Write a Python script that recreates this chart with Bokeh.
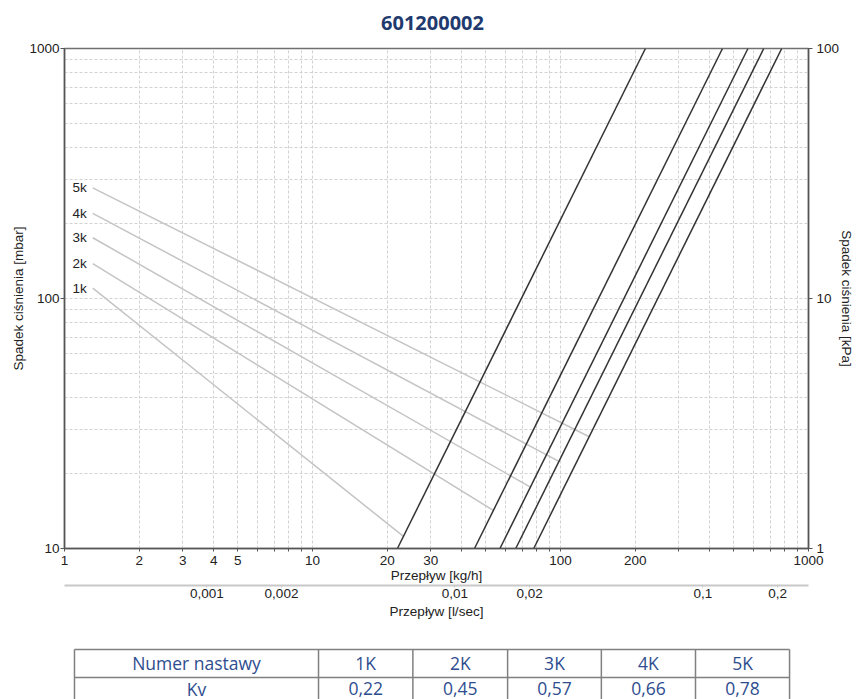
from bokeh.plotting import figure
from bokeh.models import (LogAxis, Range1d, LogScale, FixedTicker,
                          CustomJSTickFormatter, ColumnDataSource)
from bokeh.layouts import column
from bokeh.embed import file_html
from bokeh.resources import INLINE
from bokeh.core.properties import value

# ---------------- data ----------------
title_text = "601200002"
table_head = "Numer nastawy"
table_row = "Kv"
settings = ["1K", "2K", "3K", "4K", "5K"]
kv_values = ["0,22", "0,45", "0,57", "0,66", "0,78"]
setting_labels = ["1k", "2k", "3k", "4k", "5k"]

# Kv characteristic lines: flow [kg/h] at 10 mbar and at 1000 mbar
kv_flow_low = [22, 45, 57, 66, 78]
kv_dp_low = [10, 10, 10, 10, 10]
kv_flow_high = [220, 450, 570, 660, 780]
kv_dp_high = [1000, 1000, 1000, 1000, 1000]

# setting indicator lines (label point -> point on Kv line)
set_x0 = [1.3, 1.3, 1.3, 1.3, 1.3]
set_y0 = [110, 138, 175, 219, 277]
set_x1 = [23.2, 53.6, 75.6, 98.5, 130.6]
set_y1 = [11.2, 14.2, 17.6, 22.3, 28.0]

x_ticks = [1, 2, 3, 4, 5, 10, 20, 30, 100, 200, 1000]
x_minor = [6, 7, 8, 9, 40, 50, 60, 70, 80, 90, 300, 400, 500, 600, 700, 800, 900]
y_ticks = [10, 100, 1000]
y_minor = [20, 30, 40, 50, 60, 70, 80, 90, 200, 300, 400, 500, 600, 700, 800, 900]
kpa_ticks = [1, 10, 100]
ls_ticks = [0.001, 0.002, 0.01, 0.02, 0.1, 0.2]

X_RANGE = (1, 1000)
Y_RANGE = (10, 1000)
KPA_RANGE = (1, 100)
KG_H_TO_L_S = 1 / 3600.0
LS_SHIFT = 0.96   # secondary axis drawn slightly shifted in the original

# ---------------- layout / styles ----------------
W = 857
H_TITLE = 36
H_MAIN = 589
H_TABLE = 699 - H_TITLE - H_MAIN
FR_L, FR_R = 64, 810          # frame left / right (page px)
FONT = "Liberation Sans"
TXT = "#222222"
TITLE_COL = "#1f3a6e"
TABLE_COL = "#2e4d8f"
GRID_COL = "#d2d2d2"
AX_COL = "#555555"

def blank_panel(h, y_top):
    f = figure(width=W, height=h, x_range=Range1d(FR_L, FR_R),
               y_range=Range1d(y_top + h, y_top),
               output_backend="svg", toolbar_location=None,
               min_border_left=FR_L, min_border_right=W - FR_R,
               min_border_top=0, min_border_bottom=0)
    f.axis.visible = False
    f.grid.visible = False
    f.outline_line_color = None
    return f

# ---------------- title ----------------
tt = blank_panel(H_TITLE, 0)
tt.text(x=[433], y=[22], text=[title_text], text_align="center", text_baseline="middle",
        text_font=value("Open Sans"), text_font_style="bold", text_font_size="20px",
        text_color=TITLE_COL)

# ---------------- main chart ----------------
fmt = CustomJSTickFormatter(code="return tick.toString().replace('.', ',');")

p = figure(width=W, height=H_MAIN, x_axis_type="log", y_axis_type="log",
           x_range=Range1d(*X_RANGE), y_range=Range1d(*Y_RANGE),
           output_backend="svg", toolbar_location=None,
           min_border_left=FR_L, min_border_right=W - FR_R, min_border_top=48 - H_TITLE,
           min_border_bottom=H_TITLE + H_MAIN - 548)

p.outline_line_color = "#707070"
p.outline_line_width = 1.5

p.extra_y_ranges = {"kpa": Range1d(*KPA_RANGE)}
p.extra_y_scales = {"kpa": LogScale()}
p.extra_x_ranges = {"ls": Range1d(X_RANGE[0] * KG_H_TO_L_S * LS_SHIFT,
                                  X_RANGE[1] * KG_H_TO_L_S * LS_SHIFT)}
p.extra_x_scales = {"ls": LogScale()}

def style_axis(ax):
    ax.axis_line_color = AX_COL
    ax.axis_line_width = 1.5
    ax.major_tick_line_color = AX_COL
    ax.minor_tick_line_color = AX_COL
    ax.major_label_text_font = FONT
    ax.major_label_text_font_size = "13.5px"
    ax.major_label_text_color = TXT
    ax.axis_label_text_font = FONT
    ax.axis_label_text_font_size = "13.5px"
    ax.axis_label_text_font_style = "normal"
    ax.axis_label_text_color = TXT
    ax.formatter = fmt

xa = p.xaxis[0]
style_axis(xa)
xa.ticker = FixedTicker(ticks=x_ticks, minor_ticks=x_minor)
xa.major_tick_out = 3
xa.major_tick_in = 0
xa.minor_tick_out = 3
xa.minor_tick_in = 0
xa.major_label_standoff = 4
xa.axis_label = "Przepływ [kg/h]"
xa.axis_label_standoff = 0

ya = p.yaxis[0]
style_axis(ya)
ya.ticker = FixedTicker(ticks=y_ticks, minor_ticks=y_minor)
ya.major_tick_out = 4
ya.major_tick_in = 0
ya.minor_tick_out = 0
ya.minor_tick_in = 0
ya.major_label_standoff = 1
ya.axis_label = "Spadek ciśnienia [mbar]"
ya.axis_label_standoff = 0

ra = LogAxis(y_range_name="kpa")
style_axis(ra)
ra.ticker = FixedTicker(ticks=kpa_ticks, minor_ticks=[])
ra.major_tick_out = 4
ra.major_tick_in = 0
ra.minor_tick_out = 0
ra.minor_tick_in = 0
ra.major_label_standoff = 4
ra.axis_label = "Spadek ciśnienia [kPa]"
ra.axis_label_standoff = -3
p.add_layout(ra, "right")

la = LogAxis(x_range_name="ls")
style_axis(la)
la.ticker = FixedTicker(ticks=ls_ticks, minor_ticks=[])
la.axis_line_color = "#c8c8c8"
la.axis_line_width = 2
la.major_tick_line_color = "#c8c8c8"
la.major_tick_out = 2
la.major_tick_in = 0
la.minor_tick_out = 0
la.minor_tick_in = 0
la.major_label_standoff = 1
la.axis_label = "Przepływ [l/sec]"
la.axis_label_standoff = 3
p.add_layout(la, "below")

for g in (p.xgrid[0], p.ygrid[0]):
    g.grid_line_color = GRID_COL
    g.grid_line_dash = "3 2"
    g.grid_line_width = 1
    g.minor_grid_line_color = GRID_COL
    g.minor_grid_line_dash = "3 2"
    g.minor_grid_line_width = 1

# setting indicator lines
set_src = ColumnDataSource(dict(x0=set_x0, y0=set_y0, x1=set_x1, y1=set_y1,
                                lab=setting_labels))
p.segment(x0="x0", y0="y0", x1="x1", y1="y1", source=set_src,
          line_color="#c4c4c4", line_width=1.5)
p.text(x="x0", y="y0", text="lab", source=set_src, x_offset=-6,
       text_align="right", text_baseline="middle",
       text_font=value(FONT), text_font_size="13.5px", text_color=TXT)

# Kv lines
kv_src = ColumnDataSource(dict(x0=kv_flow_low, y0=kv_dp_low,
                               x1=kv_flow_high, y1=kv_dp_high))
p.segment(x0="x0", y0="y0", x1="x1", y1="y1", source=kv_src,
          line_color="#333333", line_width=1.5)

# ---------------- table (page-pixel coordinates) ----------------
t = blank_panel(H_TABLE, H_TITLE + H_MAIN)

col_edges = [74, 318.7, 413.3, 508.3, 602.3, 696.7, 791]
row_edges = [649, 677, 705]
hx0 = [col_edges[0]] * len(row_edges)
hx1 = [col_edges[-1]] * len(row_edges)
t.segment(x0=hx0, y0=row_edges, x1=hx1, y1=row_edges, line_color="#808080", line_width=1.5)
t.segment(x0=col_edges, y0=[row_edges[0]] * len(col_edges), x1=col_edges,
          y1=[row_edges[-1]] * len(col_edges), line_color="#808080", line_width=1.5)

centers = [(col_edges[i] + col_edges[i + 1]) / 2 for i in range(len(col_edges) - 1)]
row_c = [662, 688]
cells_x = centers + centers
cells_y = [row_c[0]] * len(centers) + [row_c[1]] * len(centers)
cells_t = [table_head] + settings + [table_row] + kv_values
t.text(x=cells_x, y=cells_y, text=cells_t, text_align="center", text_baseline="middle",
       text_font=value("Open Sans"), text_font_size="17.5px", text_color=TABLE_COL)

layout = column(tt, p, t)
open("out.html", "w").write(file_html(layout, INLINE))
